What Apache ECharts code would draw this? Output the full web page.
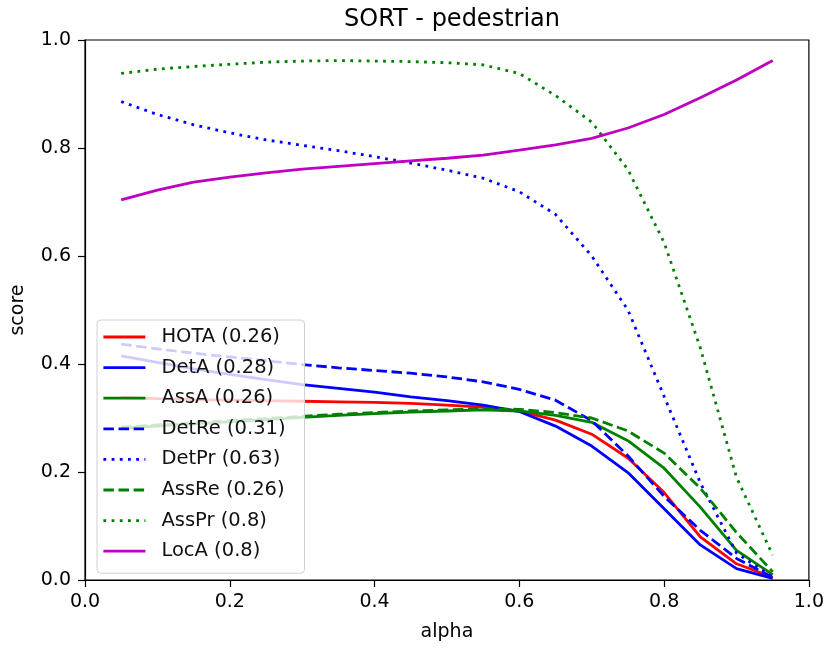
<!DOCTYPE html>
<html>
<head>
<meta charset="utf-8">
<script src="https://cdn.jsdelivr.net/npm/echarts@6/dist/echarts.min.js"></script>
<style>
html,body{margin:0;padding:0;background:#fff;}
#chart{width:827px;height:649px;}
</style>
</head>
<body>
<div id="chart"></div>
<script>
const alphas = [0.05,0.10,0.15,0.20,0.25,0.30,0.35,0.40,0.45,0.50,0.55,0.60,0.65,0.70,0.75,0.80,0.85,0.90,0.95];
const HOTA  = [0.338,0.336,0.334,0.333,0.332,0.331,0.330,0.329,0.327,0.324,0.320,0.313,0.296,0.270,0.226,0.162,0.080,0.030,0.005];
const DetA  = [0.415,0.403,0.391,0.381,0.371,0.362,0.355,0.348,0.339,0.332,0.324,0.312,0.285,0.248,0.199,0.132,0.065,0.021,0.003];
const AssA  = [0.281,0.285,0.289,0.293,0.297,0.301,0.305,0.308,0.311,0.313,0.315,0.313,0.305,0.292,0.258,0.207,0.135,0.055,0.010];
const DetRe = [0.437,0.428,0.420,0.413,0.406,0.399,0.393,0.388,0.383,0.376,0.367,0.353,0.333,0.295,0.230,0.155,0.092,0.040,0.005];
const DetPr = [0.886,0.862,0.843,0.828,0.815,0.805,0.795,0.784,0.772,0.759,0.744,0.719,0.677,0.600,0.500,0.340,0.180,0.050,0.005];
const AssRe = [0.283,0.287,0.291,0.295,0.299,0.303,0.307,0.310,0.313,0.315,0.317,0.316,0.310,0.300,0.276,0.235,0.170,0.088,0.015];
const AssPr = [0.938,0.946,0.951,0.955,0.959,0.961,0.962,0.961,0.960,0.958,0.954,0.938,0.897,0.848,0.760,0.625,0.430,0.190,0.046];
const LocA  = [0.704,0.722,0.737,0.746,0.754,0.761,0.766,0.771,0.776,0.781,0.787,0.796,0.806,0.818,0.837,0.862,0.893,0.926,0.962];

const names = ['HOTA (0.26)','DetA (0.28)','AssA (0.26)','DetRe (0.31)','DetPr (0.63)','AssRe (0.26)','AssPr (0.8)','LocA (0.8)'];
const values = [HOTA, DetA, AssA, DetRe, DetPr, AssRe, AssPr, LocA];
const colors = ['#ff0000','#0000ff','#008000','#0000ff','#0000ff','#008000','#008000','#bf00bf'];
const styles = ['solid','solid','solid','dashed','dotted','dashed','dotted','solid'];

const LW = 2.8;
const dashMap = {solid:'solid', dashed:[10.5,4.6], dotted:[2.8,5.4]};
const FONT = 'DejaVu Sans';

const series = names.map((n,i)=>({
  name:n, type:'line', symbol:'none', smooth:false,
  data: alphas.map((a,j)=>[a, values[i][j]]),
  lineStyle:{color:colors[i], width:LW, type:dashMap[styles[i]], cap:'butt'},
  itemStyle:{color:colors[i]},
  emphasis:{disabled:true}
}));

const chart = echarts.init(document.getElementById('chart'), null, {renderer:'canvas'});
chart.setOption({
  animation:false,
  backgroundColor:'#fff',
  title:{text:'SORT - pedestrian', left:447, textAlign:'center', top:3,
    textStyle:{fontFamily:FONT, fontSize:24, fontWeight:'normal', color:'#000'}},
  grid:{left:85, right:17, top:40, bottom:69, show:true, borderColor:'#000', borderWidth:1.2, backgroundColor:'transparent'},
  legend:{
    orient:'vertical', left:97, top:320,
    backgroundColor:'rgba(255,255,255,0.8)', borderColor:'#d0d0d0', borderWidth:1, borderRadius:4,
    padding:[7,19,12,5], itemGap:10.6, itemWidth:42, itemHeight:14,
    itemStyle:{opacity:0},
    lineStyle:{width:LW},
    textStyle:{fontFamily:FONT, fontSize:19.5, color:'#111', lineHeight:19.5, padding:[0,0,0,11]},
    data:names
  },
  xAxis:{type:'value', min:0, max:1, interval:0.2,
    name:'alpha', nameLocation:'middle', nameGap:43,
    nameTextStyle:{fontFamily:FONT, fontSize:19, color:'#000'},
    axisLine:{show:true, lineStyle:{color:'#000', width:1.2}},
    axisTick:{show:true, inside:false, length:7, lineStyle:{color:'#000', width:1.2}},
    axisLabel:{fontFamily:FONT, fontSize:19, color:'#000', margin:13, formatter:v=>v.toFixed(1)},
    splitLine:{show:false}},
  yAxis:{type:'value', min:0, max:1, interval:0.2,
    name:'score', nameLocation:'middle', nameGap:57,
    nameTextStyle:{fontFamily:FONT, fontSize:19, color:'#000'},
    axisLine:{show:true, lineStyle:{color:'#000', width:1.2}},
    axisTick:{show:true, inside:false, length:7, lineStyle:{color:'#000', width:1.2}},
    axisLabel:{fontFamily:FONT, fontSize:19, color:'#000', margin:14, formatter:v=>v.toFixed(1)},
    splitLine:{show:false}},
  series:series
});
</script>
</body>
</html>
